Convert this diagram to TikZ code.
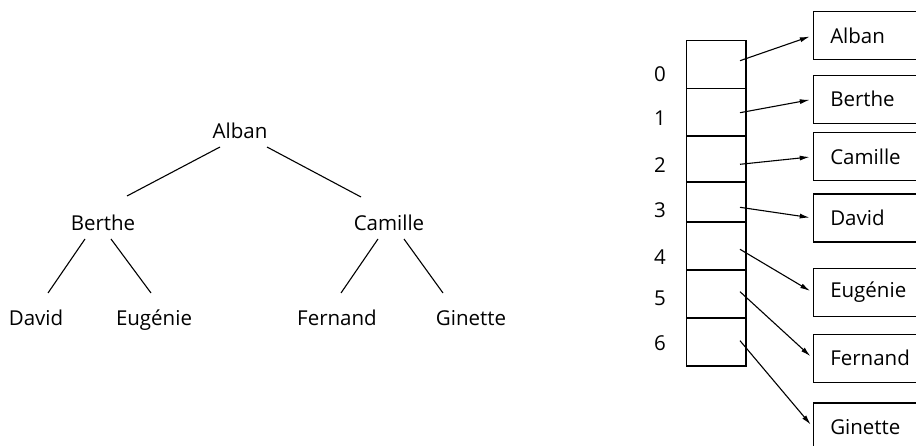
\documentclass[tikz,border=0pt]{standalone}
\usepackage{fontspec}
\setmainfont{Open Sans}
\usetikzlibrary{arrows.meta,positioning}

\begin{document}
\begin{tikzpicture}[x=1pt,y=-1pt,
  person/.style={font=\fontsize{20.5}{24}\selectfont,inner sep=0pt,anchor=base},
  idx/.style={font=\fontsize{20.5}{24}\selectfont,inner sep=0pt},
  entry/.style={draw,line width=1.1pt,anchor=west,minimum width=140pt,minimum height=48pt,
    text width=106pt,inner xsep=17pt,align=left,font=\fontsize{20.5}{24}\selectfont},
  branch/.style={line width=1.1pt},
  ptr/.style={line width=1.1pt,-{Latex[length=10pt,width=5pt]},shorten >=3pt}
]
  \useasboundingbox (0,0) rectangle (916,446);
  \clip (0,0) rectangle (916,446);
  % Tree
  \node[person] (alban) at (240,138.5) {Alban};
  \node[person] (berthe) at (103,230.5) {Berthe};
  \node[person] (camille) at (389,230.5) {Camille};
  \node[person] (david) at (36,325.5) {David};
  \node[person] (eugenie) at (154,325.5) {Eugénie};
  \node[person] (fernand) at (337,325.5) {Fernand};
  \node[person] (ginette) at (471,325.5) {Ginette};
  \draw[branch] ([shift={(-20,8.5)}]alban.base) -- ([shift={(24,-34.5)}]berthe.base);
  \draw[branch] ([shift={(27,8.5)}]alban.base) -- ([shift={(-28,-33.5)}]camille.base);
  \draw[branch] ([shift={(-18,8.5)}]berthe.base) -- ([shift={(12,-32.5)}]david.base);
  \draw[branch] ([shift={(8,8.5)}]berthe.base) -- ([shift={(-3,-32.5)}]eugenie.base);
  \draw[branch] ([shift={(-11,8.5)}]camille.base) -- ([shift={(4,-32.5)}]fernand.base);
  \draw[branch] ([shift={(15,8.5)}]camille.base) -- ([shift={(-28,-32.5)}]ginette.base);
  % Array
  \foreach \i/\top/\bot/\y in {0/40.7/88.7/60.7, 1/88.7/136/112.7, 2/136/182/164.3,
      3/182/222/207.3, 4/222/270/249.3, 5/270/318/291.7, 6/318/366/340.7} {
    \draw[line width=1.1pt] (686.7,\top) rectangle (746,\bot);
    \coordinate (p\i) at (740,\y);
  }
  \foreach \i/\y in {0/74,1/118,2/165,3/210,4/257,5/298,6/343}
    \node[idx] (i\i) at (660,\y) {\i};
  % Entries
  \node[entry] (e0) at (812.7,35.5) {Alban};
  \node[entry] (e1) at (812.7,99.3) {Berthe};
  \node[entry] (e2) at (812.7,156.7) {Camille};
  \node[entry] (e3) at (812.7,218) {David};
  \node[entry] (e4) at (812.7,292.5) {Eugénie};
  \node[entry] (e5) at (812.7,358.3) {Fernand};
  \node[entry] (e6) at (812.7,427) {Ginette};
  \foreach \i in {0,...,6}
    \draw[ptr] (p\i) -- (e\i.west);
\end{tikzpicture}
\end{document}
